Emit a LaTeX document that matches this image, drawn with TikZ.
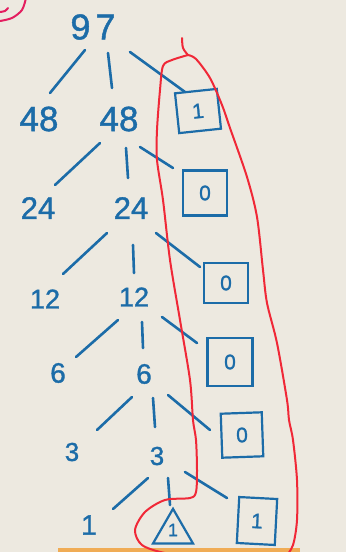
\documentclass[tikz,border=0pt]{standalone}
\usepackage{fontspec}
\setmainfont[FakeBold=1.2,AutoFakeBold=1.2]{Liberation Sans}
\usetikzlibrary{shapes.geometric}
\definecolor{ink}{RGB}{28,108,168}
\definecolor{paper}{RGB}{237,233,224}
\definecolor{marker}{RGB}{240,40,55}
\definecolor{pinkink}{RGB}{228,30,95}
\definecolor{tape}{RGB}{240,172,85}
\newcommand\link[4]{\draw[edge] ([shift={#2}]#1.center) -- ([shift={#4}]#3.center);}
\begin{document}
\begin{tikzpicture}[x=1pt,y=-1pt,
  num/.style={text=ink, inner sep=0pt, font=\fontsize{#1}{#1}\selectfont\bfseries},
  box/.style={draw=ink, line width=2.2pt, inner sep=0pt, text=ink,
    font=\fontsize{21}{21}\selectfont\bfseries},
  edge/.style={draw=ink, line width=2.6pt, line cap=round},
  outline/.style={draw=marker, line width=2pt, line cap=round, line join=round}]
\fill[paper] (0,0) rectangle (346,552);
\useasboundingbox (0,0) rectangle (346,552);
\clip (0,0) rectangle (346,552);
% corner mark and tape
\draw[pinkink, line width=2pt, line cap=round] plot[smooth] coordinates {(26,-2) (22,10) (12,18) (0,21)};
\draw[pinkink, line width=2pt, line cap=round] plot[smooth] coordinates {(0,12) (5,11) (8,8)};
\fill[tape] (58,548) rectangle (300,556);
% numbers
\node[num=36] (n97) at (93,27) {9\kern5pt7};
\node[num=35] (a48) at (39,119) {48};
\node[num=35] (b48) at (119,119) {48};
\node[num=31] (a24) at (38,208) {24};
\node[num=31] (b24) at (131,208) {24};
\node[num=27] (a12) at (45,299) {12};
\node[num=27] (b12) at (134,297) {12};
\node[num=28] (a6) at (58,373) {6};
\node[num=28] (b6) at (144,374) {6};
\node[num=26] (a3) at (72,452) {3};
\node[num=26] (b3) at (157,456) {3};
\node[num=28] (a1) at (89,525) {1};
% remainders
\node[box, minimum width=42pt, minimum height=40pt, rotate=6] (r1) at (198,111) {1};
\node[box, minimum width=44pt, minimum height=45pt] (r2) at (205,193) {0};
\node[box, minimum width=44pt, minimum height=40pt] (r3) at (226,283) {0};
\node[box, minimum width=45pt, minimum height=48pt] (r4) at (230,362) {0};
\node[box, minimum width=41pt, minimum height=44pt, rotate=2] (r5) at (242,435) {0};
\node[box, minimum width=38pt, minimum height=46pt, rotate=-3] (r6) at (257,521) {1};
\node[draw=ink, line width=2.2pt, regular polygon, regular polygon sides=3,
  minimum size=46pt, inner sep=0pt, text=ink, font=\fontsize{18}{18}\selectfont\bfseries]
  (tri) at (173,532) {\raisebox{4pt}{1}};
% connectors
\link{n97}{(-8,23)}{a48}{(11,-26)}
\link{n97}{(15,26)}{b48}{(-7,-31)}
\link{n97}{(37,25)}{r1}{(-13,-19)}
\link{b48}{(-19,24)}{a24}{(17,-23)}
\link{b48}{(7,29)}{b24}{(-3,-30)}
\link{b48}{(21,28)}{r2}{(-32,-25)}
\link{b24}{(-24,25)}{a12}{(18,-25)}
\link{b24}{(2,37)}{b12}{(0,-24)}
\link{b24}{(25,25)}{r3}{(-26,-16)}
\link{b12}{(-16,23)}{a6}{(18,-16)}
\link{b12}{(8,25)}{b6}{(-1,-26)}
\link{b12}{(28,20)}{r4}{(-33,-19)}
\link{b6}{(-12,23)}{a3}{(25,-22)}
\link{b6}{(9,24)}{b3}{(-2,-29)}
\link{b6}{(24,21)}{r5}{(-32,-5)}
\link{b3}{(-9,22)}{a1}{(24,-16)}
\link{b3}{(11,22)}{tri}{(-3,-27)}
\link{b3}{(28,16)}{r6}{(-30,-23)}
% red outline
\draw[outline] plot[smooth, tension=0.5] coordinates {(182,38) (183,48) (188,55)};
\draw[outline] plot[smooth, tension=0.5] coordinates {(188,55) (172,60) (163,66) (160,90)
  (157,130) (157,160) (163,200) (170,260) (180,320) (190,380) (193,420) (196,440)
  (197,470) (196,492) (190,498) (165,500) (145,512) (135,530) (142,545) (165,553) (200,556)};
\draw[outline] plot[smooth, tension=0.5] coordinates {(188,55) (196,59) (210,78) (222,105)
  (230,128) (247,177) (257,217) (263,270) (267,303) (277,343) (287,400) (289,420)
  (293,440) (297,480) (297,520) (293,545) (285,558)};
\end{tikzpicture}
\end{document}
